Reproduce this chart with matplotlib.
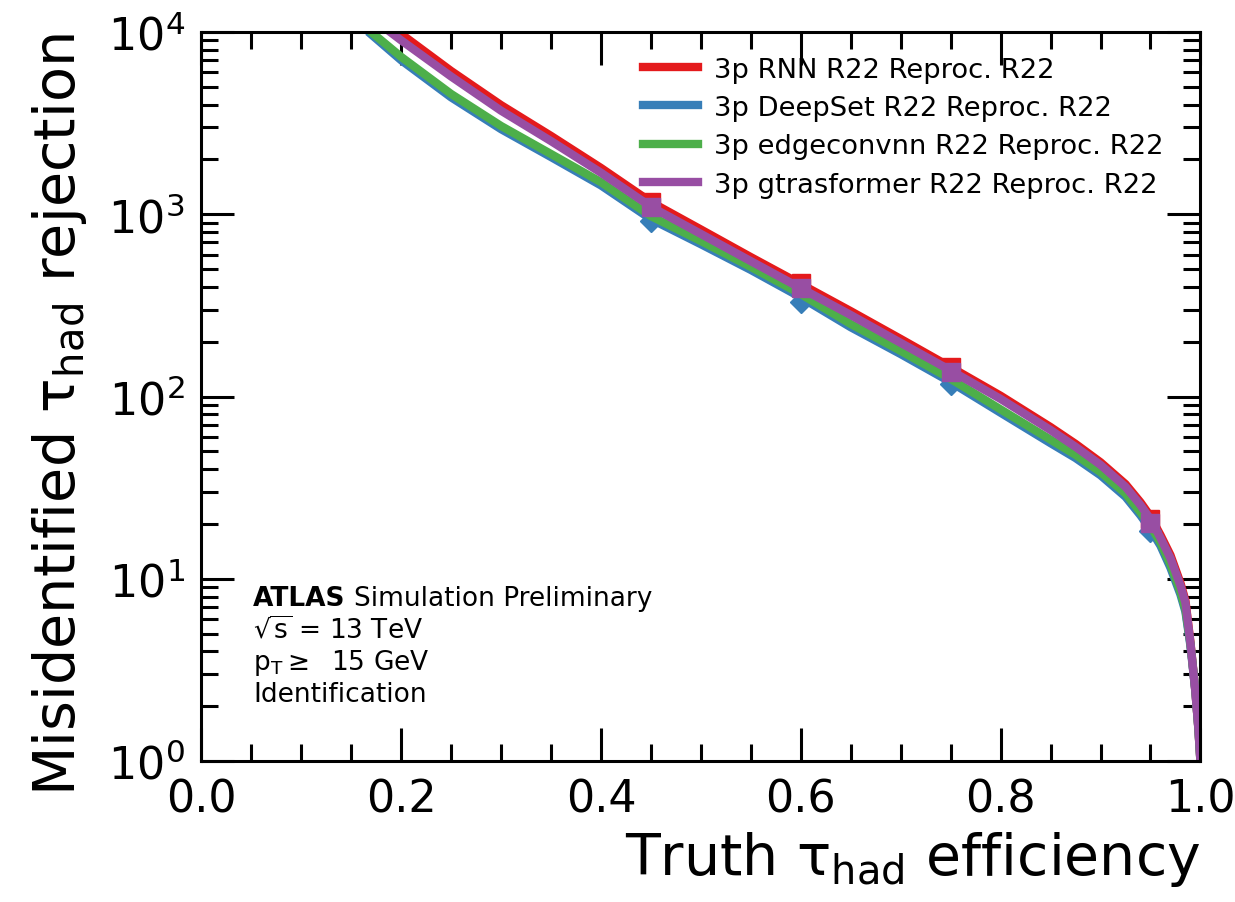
import matplotlib
matplotlib.use("Agg")
import matplotlib.pyplot as plt
from matplotlib.ticker import MultipleLocator, LogLocator, NullFormatter

# signal efficiency grid shared by all ROC curves
efficiency = [0.17, 0.2, 0.25, 0.3, 0.35, 0.4, 0.45, 0.5, 0.55, 0.6, 0.65, 0.7,
              0.75, 0.8, 0.85, 0.875, 0.9, 0.925, 0.94, 0.95, 0.96, 0.97, 0.98,
              0.985, 0.99, 0.995, 0.998, 1.0]

rej_rnn = [12900, 9750, 6110, 3970, 2690, 1795, 1167, 825, 582, 414, 294, 207,
           145, 101, 68, 55, 43.6, 33.1, 26.3, 22, 17.4, 13.5, 9.5,
           7.6, 4.5, 2.4, 1.5, 1.0]
rej_deepset = [9700, 7000, 4380, 2930, 2060, 1440, 940, 685, 495, 350, 240, 171,
               120, 81.5, 55.5, 46, 37, 28.2, 22.3, 18.7, 15.2, 11.5, 8.2,
               6.6, 4.3, 2.4, 1.5, 1.0]
rej_edgeconv = [10000, 7300, 4570, 3050, 2140, 1500, 977, 713, 514, 365, 250, 178,
                125, 85, 58, 47.9, 38.5, 29.4, 23.2, 19.5, 15.8, 12, 8.5,
                6.8, 4.4, 2.45, 1.5, 1.0]
rej_gtrans = [12000, 9000, 5700, 3700, 2520, 1690, 1100, 780, 553, 393, 280, 197,
              139, 97, 65.5, 53, 42.2, 32, 25.4, 21.2, 16.8, 13.0, 9.2,
              7.4, 4.45, 2.4, 1.5, 1.0]

# working points
wp_eff = [0.45, 0.6, 0.75, 0.95]
wp_rnn = [1167, 420, 145, 21.3]
wp_deepset = [918, 330, 117, 18.3]
wp_gtrans = [1100, 395, 137, 20.3]

labels = ["3p RNN R22 Reproc. R22", "3p DeepSet R22 Reproc. R22",
          "3p edgeconvnn R22 Reproc. R22", "3p gtrasformer R22 Reproc. R22"]
colors = ["#e41a1c", "#377eb8", "#4daf4a", "#984ea3"]

fig = plt.figure(figsize=(12.35, 9.03), dpi=100)
ax = fig.add_axes([0.163, 0.156, 0.809, 0.8075])

lw = 6
ax.plot(efficiency, rej_rnn, color=colors[0], lw=lw, label=labels[0])
ax.plot(wp_eff, wp_rnn, "s", color=colors[0], ms=13, ls="none")
ax.plot(efficiency, rej_deepset, color=colors[1], lw=lw, label=labels[1])
ax.plot(wp_eff, wp_deepset, "D", color=colors[1], ms=11, ls="none")
ax.plot(efficiency, rej_edgeconv, color=colors[2], lw=lw, label=labels[2])
ax.plot(efficiency, rej_gtrans, color=colors[3], lw=lw, label=labels[3])
ax.plot(wp_eff, wp_gtrans, "s", color=colors[3], ms=13, ls="none")

ax.set_yscale("log")
ax.set_xlim(0.0, 1.0)
ax.set_ylim(1, 1e4)

ax.xaxis.set_major_locator(MultipleLocator(0.2))
ax.xaxis.set_minor_locator(MultipleLocator(0.05))
ax.yaxis.set_major_locator(LogLocator(base=10, numticks=10))
ax.yaxis.set_minor_locator(LogLocator(base=10, subs=range(2, 10), numticks=20))
ax.yaxis.set_minor_formatter(NullFormatter())

ax.tick_params(which="both", direction="in", top=True, right=True, width=2.2)
ax.tick_params(which="major", length=24, labelsize=32, pad=12)
ax.tick_params(which="minor", length=12)
for sp in ax.spines.values():
    sp.set_linewidth(2.2)

ax.set_xlabel(r"Truth $\mathregular{\tau_{had}}$ efficiency", fontsize=41, loc="right",
              labelpad=6)
ax.set_ylabel(r"Misidentified $\mathregular{\tau_{had}}$ rejection", fontsize=41.3,
              loc="top", labelpad=13)

ax.legend(loc="upper right", frameon=False, fontsize=19.7, handlelength=2.0,
          handletextpad=0.6, labelspacing=0.45, bbox_to_anchor=(0.988, 1.0))

ax.text(0.052, 0.214, "ATLAS", fontsize=19, fontweight="bold", transform=ax.transAxes)
ax.text(0.153, 0.214, "Simulation Preliminary", fontsize=19, transform=ax.transAxes)
ax.text(0.052, 0.170, r"$\sqrt{\mathrm{s}}$ = 13 TeV", fontsize=19, transform=ax.transAxes)
ax.text(0.052, 0.126, r"p$_{\mathrm{T}}\geq$  15 GeV", fontsize=19, transform=ax.transAxes)
ax.text(0.052, 0.082, "Identification", fontsize=19, transform=ax.transAxes)

fig.savefig("out.png", dpi=100)
